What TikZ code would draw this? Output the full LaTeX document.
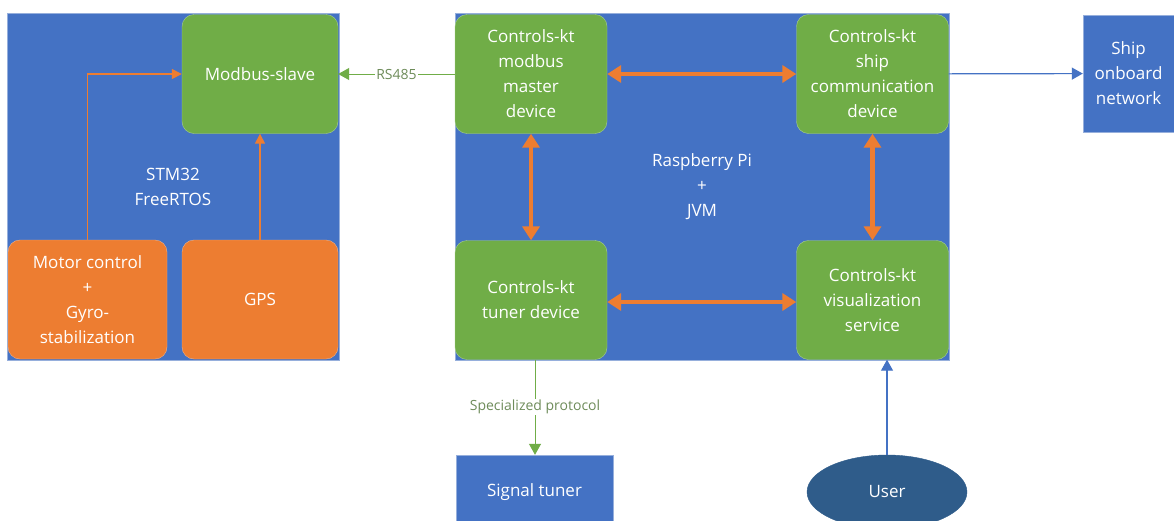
\documentclass[tikz,border=0pt]{standalone}
\usepackage{fontspec}
\setmainfont{Open Sans}
\definecolor{boxblue}{RGB}{68, 114, 196}
\definecolor{edgeblue}{RGB}{150, 175, 220}
\definecolor{boxgreen}{RGB}{112, 173, 71}
\definecolor{edgegreen}{RGB}{170, 208, 142}
\definecolor{boxorange}{RGB}{237, 125, 49}
\definecolor{edgeorange}{RGB}{244, 177, 131}
\definecolor{userblue}{RGB}{47, 92, 138}
\definecolor{labelgreen}{RGB}{110, 140, 90}
\usetikzlibrary{arrows.meta, positioning, shapes.geometric}

\begin{document}
\begin{tikzpicture}[
            x=1pt, y=-1pt,
            board/.style={draw=edgeblue, fill=boxblue, text=white, align=center,
                          font=\fontsize{17}{25}\selectfont, inner sep=0pt},
            dev/.style={draw=edgegreen, fill=boxgreen, rounded corners=12pt, text=white,
                        align=center, minimum width=152pt, minimum height=119pt,
                        font=\fontsize{17}{25}\selectfont, inner sep=0pt},
            hw/.style={draw=edgeorange, fill=boxorange, rounded corners=12pt, text=white,
                       align=center, minimum height=119pt,
                       font=\fontsize{17}{25}\selectfont, inner sep=0pt},
            ext/.style={draw=edgeblue, fill=boxblue, text=white, align=center,
                        font=\fontsize{17}{25}\selectfont, inner sep=0pt},
            both/.style={{Triangle[length=14pt,width=17pt]}-{Triangle[length=14pt,width=17pt]},
                         line width=4.5pt, color=boxorange},
            feed/.style={-{Triangle[length=10pt,width=10pt]}, line width=1.5pt, color=boxorange},
            link/.style={-{Triangle[length=11pt,width=12pt]}, line width=1pt, color=boxgreen},
            net/.style={-{Triangle[length=11pt,width=12pt]}, line width=1.2pt, color=boxblue},
            tag/.style={fill=white, text=labelgreen, font=\fontsize{14}{16}\selectfont, inner sep=1pt}
          ]
          \clip (0,0) rectangle (1174,520);
          \fill[white] (0,0) rectangle (1174,520);
          \node[board, minimum width=332pt, minimum height=347pt] (stm) at (173,186.5) {STM32\\FreeRTOS};
          \node[board, minimum width=494pt, minimum height=347pt] (rpi) at (702,186.5) {Raspberry Pi\\+\\JVM};
          \node[dev, minimum width=156pt] (slave) at (260,74) {Modbus-slave};
          \node[hw, minimum width=159pt] (motor) at (87.5,299.5) {Motor control\\+\\Gyro-\\stabilization};
          \node[hw, minimum width=156pt] (gps)   at (260,299.5) {GPS};
          \node[dev] (master) at (531,74)    {Controls-kt\\modbus\\master\\device};
          \node[dev] (comm)   at (872.5,74)  {Controls-kt\\ship\\communication\\device};
          \node[dev] (tuner)  at (531,300)   {Controls-kt\\tuner device};
          \node[dev] (vis)    at (872.5,300) {Controls-kt\\visualization\\service};
          \node[ext, minimum width=91pt, minimum height=117pt] (ship) at (1128.5,73.5) {Ship\\onboard\\network};
          \node[ext, minimum width=157pt, minimum height=75pt] (sig) at (534.5,492.5) {Signal tuner};
          \node[ellipse, draw=userblue, fill=userblue, text=white, minimum width=160pt,
                minimum height=74pt, font=\fontsize{17}{25}\selectfont] (user) at (887,492) {User};
          \draw[feed] (motor.north) |- (slave.west);
          \draw[feed] (gps) -- (slave);
          \draw[link] (master) -- node[tag] {RS485} (slave);
          \draw[both] (master) -- (comm);
          \draw[both] ([yshift=-2pt]tuner.east) -- ([yshift=-2pt]vis.west);
          \draw[both] (master) -- (tuner);
          \draw[both] (comm) -- (vis);
          \draw[net] (comm) -- (ship);
          \draw[link] ([xshift=4pt]tuner.south) -- node[tag] {Specialized protocol} ([xshift=4pt]tuner.south |- sig.north);
          \draw[net] (user) -- (user |- vis.south);
        \end{tikzpicture}
\end{document}
